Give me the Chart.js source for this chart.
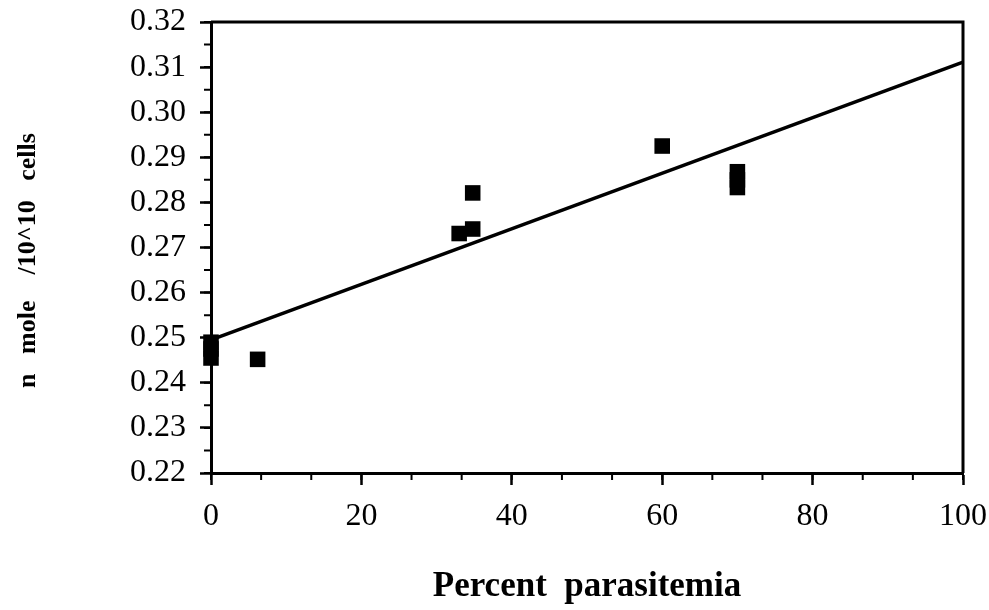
<!DOCTYPE html>
<html>
<head>
<meta charset="utf-8">
<script src="https://cdn.jsdelivr.net/npm/chart.js@4"></script>
<style>
  html, body { margin: 0; padding: 0; background: #fff; }
  canvas { display: block; }
</style>
</head>
<body>
<canvas id="c" width="989" height="610"></canvas>
<script>
// ---- Data ----
const parasitemiaX = [0, 0, 0, 6.2, 33.0, 34.8, 34.8, 60, 70, 70, 70];
const nmoleY      = [0.2490, 0.2475, 0.2455, 0.2452, 0.2731, 0.2741, 0.2821, 0.2925, 0.2868, 0.2850, 0.2833];
const fitX = [0, 100];
const fitY = [0.2495, 0.3111];

const xMajorTicks = [0, 20, 40, 60, 80, 100];
const yMajorTicks = [0.22, 0.23, 0.24, 0.25, 0.26, 0.27, 0.28, 0.29, 0.30, 0.31, 0.32];
const xMinorStep = 20 / 3;
const yMinorStep = 0.005;

const xTitle = 'Percent  parasitemia';
const yTitle = 'n   mole    /10^10   cells    ';

const points = parasitemiaX.map((x, i) => ({ x: x, y: nmoleY[i] }));
const fitLine = fitX.map((x, i) => ({ x: x, y: fitY[i] }));

const frameAndMinor = {
  id: 'frameAndMinor',
  afterDraw(chart) {
    const ctx = chart.ctx;
    const a = chart.chartArea;
    const xs = chart.scales.x, ys = chart.scales.y;
    ctx.save();
    ctx.strokeStyle = '#000';
    // top and right frame lines
    ctx.lineWidth = 3;
    ctx.beginPath();
    ctx.moveTo(a.left, a.top);
    ctx.lineTo(a.right, a.top);
    ctx.lineTo(a.right, a.bottom);
    ctx.stroke();
    // minor ticks
    ctx.lineWidth = 2;
    ctx.beginPath();
    for (let v = xs.min; v <= xs.max + 1e-9; v += xMinorStep) {
      const px = xs.getPixelForValue(v);
      ctx.moveTo(px, a.bottom);
      ctx.lineTo(px, a.bottom + 7);
    }
    for (let v = ys.min; v <= ys.max + 1e-9; v += yMinorStep) {
      const py = ys.getPixelForValue(v);
      ctx.moveTo(a.left, py);
      ctx.lineTo(a.left - 7, py);
    }
    ctx.stroke();
    ctx.restore();
  }
};

new Chart(document.getElementById('c'), {
  type: 'scatter',
  data: {
    datasets: [
      {
        label: 'data',
        data: points,
        pointStyle: 'rect',
        pointRadius: 11,
        pointBackgroundColor: '#000',
        pointBorderWidth: 0,
        showLine: false,
        clip: false
      },
      {
        label: 'fit',
        data: fitLine,
        showLine: true,
        borderColor: '#000',
        borderWidth: 3.5,
        pointRadius: 0,
        fill: false,
        clip: false
      }
    ]
  },
  plugins: [frameAndMinor],
  options: {
    responsive: false,
    devicePixelRatio: 1,
    animation: false,
    layout: { padding: { left: 0, top: 22, right: 26, bottom: 0 } },
    plugins: { legend: { display: false }, tooltip: { enabled: false } },
    scales: {
      x: {
        type: 'linear',
        min: 0, max: 100,
        afterBuildTicks(scale) { scale.ticks = xMajorTicks.map(v => ({ value: v })); },
        afterFit(scale) {
          scale.height = 137;
          scale.paddingLeft = 0; scale.paddingRight = 0;
        },
        ticks: {
          color: '#000',
          padding: 12,
          font: { family: 'Liberation Serif', size: 32 },
          callback: v => String(v)
        },
        grid: { drawOnChartArea: false, drawTicks: true, tickLength: 12, tickWidth: 2.5, tickColor: '#000' },
        border: { display: true, color: '#000', width: 3 },
        title: {
          display: true,
          text: xTitle,
          color: '#000',
          font: { family: 'Liberation Serif', size: 35, weight: 'bold' },
          padding: { top: 0, bottom: 2 }
        }
      },
      y: {
        type: 'linear',
        min: 0.22, max: 0.32,
        afterBuildTicks(scale) { scale.ticks = yMajorTicks.map(v => ({ value: v })); },
        afterFit(scale) {
          scale.width = 211;
          scale.paddingTop = 0; scale.paddingBottom = 0;
        },
        ticks: {
          color: '#000',
          padding: 14,
          font: { family: 'Liberation Serif', size: 32 },
          callback: v => Number(v).toFixed(2)
        },
        grid: { drawOnChartArea: false, drawTicks: true, tickLength: 11, tickWidth: 2.5, tickColor: '#000' },
        border: { display: true, color: '#000', width: 3 },
        title: {
          display: true,
          text: yTitle,
          color: '#000',
          font: { family: 'Liberation Serif', size: 26, weight: 'bold' },
          padding: { top: 13, bottom: 0 }
        }
      }
    }
  }
});
</script>
</body>
</html>
